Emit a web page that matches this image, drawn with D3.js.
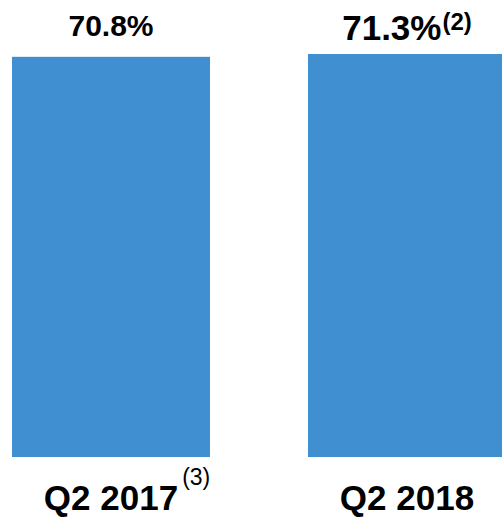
<!DOCTYPE html>
<html>
<head>
<meta charset="utf-8">
<script src="https://cdn.jsdelivr.net/npm/d3@7"></script>
<style>
  html, body { margin: 0; padding: 0; background: #fff; }
  svg { display: block; font-family: "Liberation Sans", Arial, sans-serif; }
</style>
</head>
<body>
<svg id="chart" width="502" height="517"></svg>
<script>
const categories = ["Q2 2017", "Q2 2018"];
const categoryNotes = ["(3)", ""];
const values = [70.8, 71.3];
const valueLabels = ["70.8%", "71.3%"];
const valueNotes = ["", "(2)"];

const svg = d3.select("#chart");
const x = d3.scaleBand().domain(categories).range([12, 506]).paddingInner(98 / 296).paddingOuter(0);
const y = d3.scaleLinear().domain([0, d3.max(values)]).range([457, 54]);

svg.selectAll("rect.bar").data(values).enter().append("rect")
  .attr("class", "bar")
  .attr("x", (d, i) => x(categories[i]))
  .attr("y", d => y(d))
  .attr("width", x.bandwidth())
  .attr("height", d => y(0) - y(d))
  .attr("fill", "#3F8FD1");

// value labels
const valSizes = [30, 35];
const valBase = [36, 40];
values.forEach((v, i) => {
  const cx = x(categories[i]) + x.bandwidth() / 2;
  const t = svg.append("text")
    .attr("x", cx).attr("y", valBase[i])
    .attr("text-anchor", "middle")
    .attr("font-weight", "bold")
    .attr("font-size", valSizes[i])
    .attr("fill", "#000");
  t.append("tspan").text(valueLabels[i]);
  if (valueNotes[i]) {
    t.append("tspan").attr("font-size", 24).attr("dx", 1).attr("dy", -10).text(valueNotes[i]);
  }
});

// category labels
categories.forEach((c, i) => {
  const cx = x(c) + x.bandwidth() / 2;
  const t = svg.append("text")
    .attr("x", cx).attr("y", 510)
    .attr("text-anchor", "middle")
    .attr("font-weight", "bold")
    .attr("font-size", 35)
    .attr("fill", "#000")
    .text(c);
  if (categoryNotes[i]) {
    const w = t.node().getComputedTextLength();
    svg.append("text")
      .attr("x", cx + w / 2 + 4).attr("y", 485)
      .attr("font-size", 23)
      .attr("fill", "#000")
      .text(categoryNotes[i]);
  }
});
</script>
</body>
</html>
